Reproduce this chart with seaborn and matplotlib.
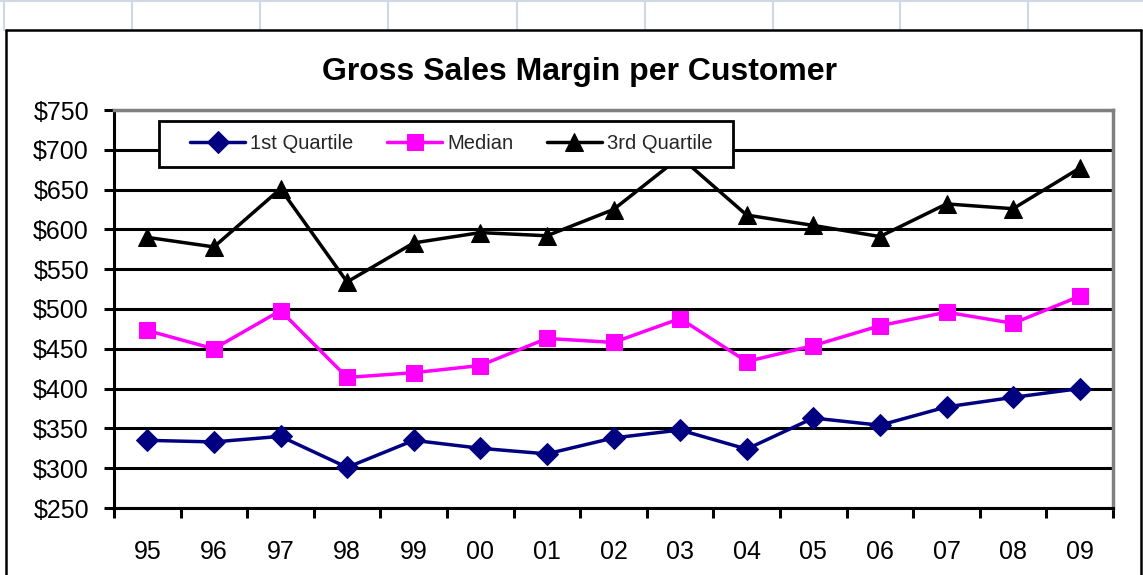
import matplotlib
matplotlib.use("Agg")
import numpy as np
import pandas as pd
import matplotlib.pyplot as plt
from matplotlib.lines import Line2D
from matplotlib.patches import Rectangle
from matplotlib.ticker import FuncFormatter, FixedLocator
import seaborn as sns

# data
years = ["95", "96", "97", "98", "99", "00", "01", "02", "03", "04", "05", "06", "07", "08", "09"]
first_quartile = [335, 333, 340, 301, 335, 325, 318, 338, 348, 324, 363, 354, 377, 389, 400]
median = [473, 450, 498, 414, 420, 429, 463, 458, 488, 434, 454, 479, 496, 482, 516]
third_quartile = [590, 578, 651, 534, 583, 596, 592, 625, 691, 618, 605, 591, 632, 626, 677]

df = pd.DataFrame({"year": years, "q1": first_quartile, "med": median, "q3": third_quartile})

sns.set_theme(style="white")
plt.rcParams["font.family"] = ["Liberation Sans", "DejaVu Sans"]

W, H = 1143, 575
fig = plt.figure(figsize=(W / 100, H / 100), dpi=100)
fig.patch.set_facecolor("white")


def fx(px):
    return px / W


def fy(py):
    return 1 - py / H


# spreadsheet cell lines above the chart
cell_col = "#d0d7e5"
fig.add_artist(Line2D([0, 1], [fy(1), fy(1)], color=cell_col, lw=1.5, transform=fig.transFigure))
for cx in [4, 132, 260, 388, 517, 645, 773, 900, 1028]:
    fig.add_artist(Line2D([fx(cx), fx(cx)], [fy(0), fy(30)], color=cell_col, lw=1.5, transform=fig.transFigure))

# chart border
for xs, ys in [([6, 1141], [30, 30]), ([6, 6], [30, 575]), ([1141, 1141], [30, 575])]:
    fig.add_artist(Line2D([fx(v) for v in xs], [fy(v) for v in ys], color="black", lw=1.8,
                          transform=fig.transFigure))

# plot area
left, right, top, bottom = 114, 1113, 110, 508
ax = fig.add_axes([fx(left), fy(bottom), fx(right - left), (bottom - top) / H])
ax.set_facecolor("white")

sns.lineplot(data=df, x="year", y="q1", ax=ax, sort=False, color="#000080", linewidth=2.5,
             marker="D", markersize=11, markeredgecolor="#000080", label="1st Quartile")
sns.lineplot(data=df, x="year", y="med", ax=ax, sort=False, color="#ff00ff", linewidth=2.5,
             marker="s", markersize=12, markeredgecolor="#ff00ff", label="Median")
sns.lineplot(data=df, x="year", y="q3", ax=ax, sort=False, color="black", linewidth=2.5,
             marker="^", markersize=13, markeredgecolor="black", label="3rd Quartile")

ax.set_xlim(-0.5, len(years) - 0.5)
ax.set_ylim(250, 750)
ax.set_yticks(np.arange(250, 751, 50))
ax.yaxis.set_major_formatter(FuncFormatter(lambda v, p: f"${v:.0f}"))
ax.set_xticks(range(len(years)))
ax.set_xticklabels(years)
ax.xaxis.set_minor_locator(FixedLocator(np.arange(-0.5, len(years), 1)))
ax.tick_params(axis="x", which="major", length=0, labelsize=18, pad=23, colors="black")
ax.tick_params(axis="x", which="minor", length=7, width=2.2, direction="out", color="black", bottom=True)
ax.tick_params(axis="y", which="major", length=7, width=2.2, direction="out", labelsize=18, pad=11,
               colors="black", left=True)
ax.set_xlabel("")
ax.set_ylabel("")

ax.yaxis.grid(True, color="black", linewidth=2.2)
ax.xaxis.grid(False)
ax.set_axisbelow(True)

for side in ["left", "bottom"]:
    ax.spines[side].set_color("black")
    ax.spines[side].set_linewidth(2.2)
for side in ["top", "right"]:
    ax.spines[side].set_color("#808080")
    ax.spines[side].set_linewidth(2.5)

# legend box (Excel style) drawn over the lines
ax.add_patch(Rectangle((0.045, 0.8568), 0.5746, 0.1156, transform=ax.transAxes, facecolor="white",
                       edgecolor="black", linewidth=2, zorder=4, clip_on=False))
leg = ax.legend(loc="center left", bbox_to_anchor=(0.076, 0.9146), ncol=3, fontsize=14.5,
                frameon=False, handlelength=2.75, handletextpad=0.25, borderpad=0,
                borderaxespad=0, columnspacing=1.65)
leg.set_zorder(5)

fig.text(fx(579), fy(72), "Gross Sales Margin per Customer", ha="center", va="center",
         fontsize=23, fontweight="bold", color="black")

fig.savefig("out.png", dpi=100)
